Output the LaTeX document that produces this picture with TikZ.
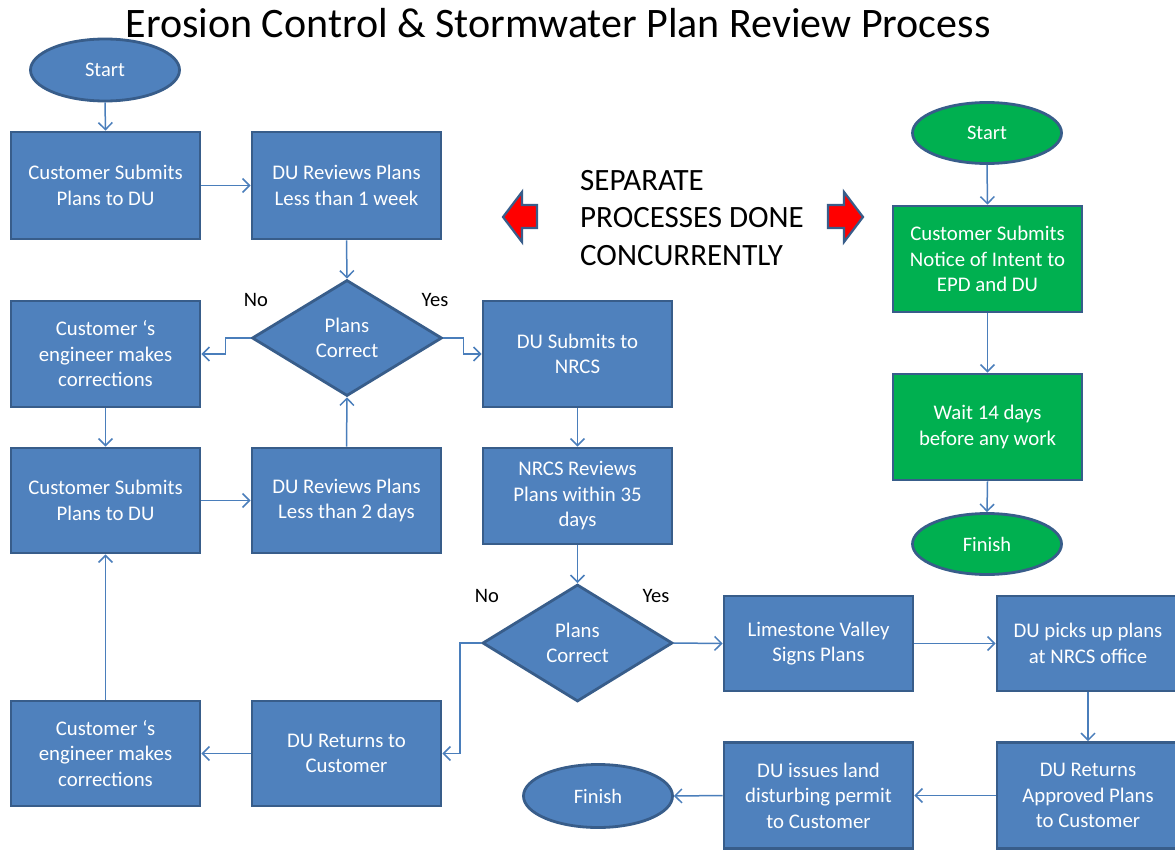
\documentclass[tikz,border=0pt]{standalone}
\usepackage{fontspec}
\setmainfont{Carlito}
\usetikzlibrary{shapes.geometric,arrows.meta}
\definecolor{bfill}{HTML}{4F81BD}
\definecolor{bord}{HTML}{385D8A}
\definecolor{gfill}{HTML}{00B050}
\definecolor{conn}{HTML}{4A7EBB}
\tikzset{
  boxnode/.style={draw=bord, fill=bfill, line width=2.8pt, minimum width=189pt, minimum height=106pt,
    text=white, align=center, inner sep=0pt, font=\fontsize{20.8}{25.5}\selectfont},
  greenbox/.style={boxnode, fill=gfill},
  oval/.style={ellipse, draw=bord, fill=bfill, line width=2.8pt, minimum width=149pt, minimum height=62pt,
    text=white, inner sep=0pt, font=\fontsize{20.5}{24}\selectfont},
  greenoval/.style={oval, fill=gfill},
  decision/.style={diamond, aspect=1.64, draw=bord, fill=bfill, line width=2.8pt, minimum width=190pt,
    minimum height=116pt, text=white, align=center, inner sep=0pt, font=\fontsize{20.8}{25.5}\selectfont},
  conn/.style={draw=conn, line width=1.5pt, -{Straight Barb[length=7pt,width=14pt,line width=1.5pt]}},
  lbl/.style={text=black, font=\fontsize{20.5}{24}\selectfont, inner sep=0pt},
  redarrow/.style={fill=red, draw=bord, line width=2.2pt, line join=miter}
}
\begin{document}
\begin{tikzpicture}[x=1pt,y=-1pt]
\useasboundingbox (0,0) rectangle (1175,856);
\fill[white] (0,0) rectangle (1175,856);

\node[font=\fontsize{42}{46}\selectfont, inner sep=0pt] (title) at (558,23) {Erosion Control \& Stormwater Plan Review Process};

% left process
\node[oval] (st) at (105,70) {Start};
\node[boxnode, minimum height=107pt] (b1) at (105.5,185.5) {Customer Submits\\Plans to DU};
\node[boxnode, minimum height=107pt] (b2) at (346.5,185.5) {DU Reviews Plans\\Less than 1 week};
\node[decision] (d1) at (347,338) {Plans\\Correct};
\node[boxnode] (b3) at (105.5,354) {Customer ‘s\\engineer makes\\corrections};
\node[boxnode] (b4) at (577.5,354) {DU Submits to\\NRCS};
\node[boxnode, minimum height=105pt] (b5) at (105.5,500.5) {Customer Submits\\Plans to DU};
\node[boxnode, minimum height=105pt] (b6) at (346.5,500.5) {DU Reviews Plans\\Less than 2 days};
\node[boxnode, minimum height=96pt] (b7) at (577.5,496) {NRCS Reviews\\Plans within 35\\days};
\node[decision, minimum height=117pt] (d2) at (577.5,643) {Plans\\Correct};
\node[boxnode, minimum height=105pt] (b8) at (346.5,753.5) {DU Returns to\\Customer};
\node[boxnode, minimum height=105pt] (b9) at (105.5,753.5) {Customer ‘s\\engineer makes\\corrections};
\node[boxnode, minimum height=95pt] (b10) at (818.5,643.5) {Limestone Valley\\Signs Plans};
\node[boxnode, minimum height=95pt, minimum width=182pt] (b11) at (1088,643.5) {DU picks up plans\\at NRCS office};
\node[boxnode, minimum width=182pt] (b12) at (1088,795.5) {DU Returns\\Approved Plans\\to Customer};
\node[boxnode] (b13) at (818.5,795.5) {DU issues land\\disturbing permit\\to Customer};
\node[oval, minimum height=63pt] (fin) at (598,796) {Finish};

\node[lbl] (no1) at (256,300) {No};
\node[lbl] (yes1) at (435,300) {Yes};
\node[lbl] (no2) at (487,596) {No};
\node[lbl] (yes2) at (656,596) {Yes};

% right process
\node[greenoval, minimum height=61pt] (gs) at (987,133) {Start};
\node[greenbox] (g1) at (987.5,259) {Customer Submits\\Notice of Intent to\\EPD and DU};
\node[greenbox] (g2) at (987.5,427) {Wait 14 days\\before any work};
\node[greenoval, minimum height=61pt] (gf) at (987,544) {Finish};

% middle note
\node[anchor=west, align=left, inner sep=0pt, font=\fontsize{31}{37.5}\selectfont] (note) at (580,218)
  {SEPARATE\\PROCESSES DONE\\CONCURRENTLY};
\draw[redarrow] (503,217) -- (522,192) -- (522,205) -- (537,205) -- (537,228) -- (522,228) -- (522,242) -- cycle;
\draw[redarrow] (863,217) -- (844,192) -- (844,205) -- (828,205) -- (828,228) -- (844,228) -- (844,242) -- cycle;

% connectors
\draw[conn] (st.south) -- (b1.north);
\draw[conn] (b1.east) -- (b2.west);
\draw[conn] (b2.south) -- (d1.north);
\draw[conn] (d1.west) -- ++(-25,0) |- (b3.east);
\draw[conn] (d1.east) -- ++(20,0) |- (b4.west);
\draw[conn] (b3.south) -- (b5.north);
\draw[conn] (b5.east) -- (b6.west);
\draw[conn] (b6.north) -- (d1.south);
\draw[conn] (b4.south) -- (b7.north);
\draw[conn] (b7.south) -- (d2.north);
\draw[conn] (d2.west) -- ++(-21,0) |- (b8.east);
\draw[conn] (d2.east) -- (b10.west);
\draw[conn] (b10.east) -- (b11.west);
\draw[conn] (b11.south) -- (b12.north);
\draw[conn] (b12.west) -- (b13.east);
\draw[conn] (b13.west) -- (fin.east);
\draw[conn] (b8.west) -- (b9.east);
\draw[conn] (b9.north) -- (b5.south);
\draw[conn] (gs.south) -- (g1.north);
\draw[conn] (g1.south) -- (g2.north);
\draw[conn] (g2.south) -- (gf.north);
\end{tikzpicture}
\end{document}
